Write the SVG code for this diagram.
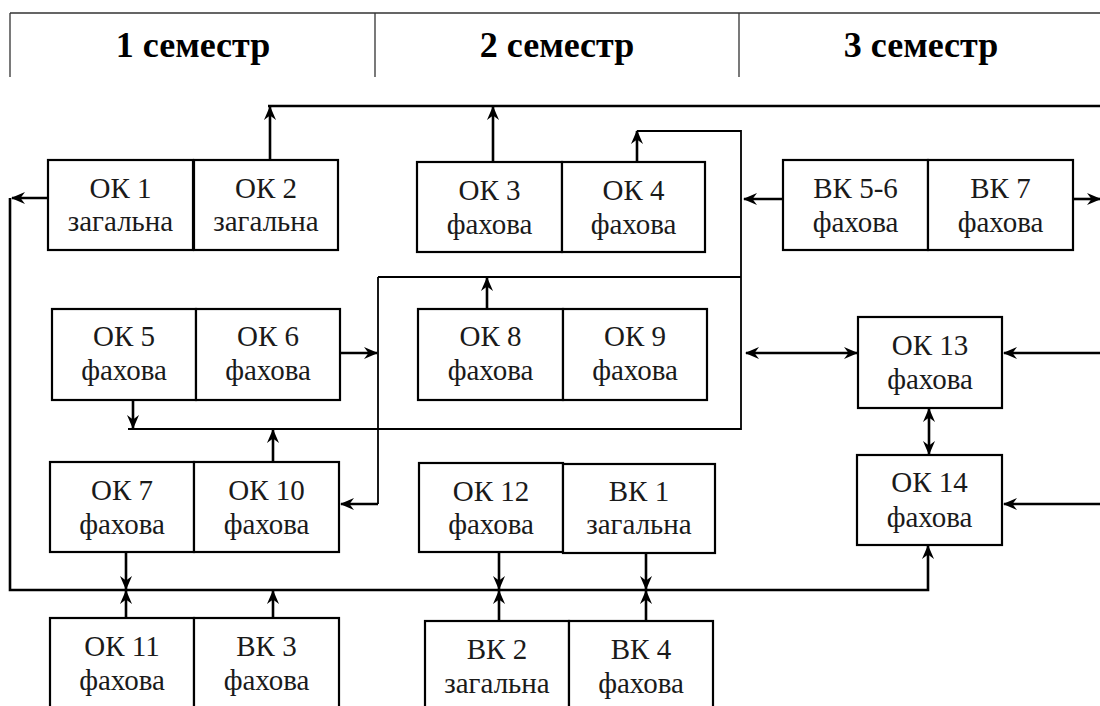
<svg xmlns="http://www.w3.org/2000/svg" width="1100" height="706" viewBox="0 0 1100 706">
<defs>
<marker id="ah" viewBox="0 0 14 12" refX="13" refY="6" markerWidth="14" markerHeight="12" markerUnits="userSpaceOnUse" orient="auto-start-reverse">
<path d="M0,0 L14,6 L0,12 L4.5,6 z" fill="#000"/>
</marker>
<style>
.hdr{stroke:#333;stroke-width:1.3;fill:none}
.ht{font-family:"Liberation Serif","Times New Roman","DejaVu Serif",serif;font-weight:bold;font-size:36px;text-anchor:middle;fill:#000}
.box rect{fill:#fff;stroke:#000;stroke-width:2.2}
.box text{font-family:"Liberation Serif","Times New Roman","DejaVu Serif",serif;font-size:29px;text-anchor:middle;fill:#1a1a1a}
.c{stroke:#000;stroke-width:2.6;fill:none}
.t{stroke:#000;stroke-width:1.8;fill:none}
.a{marker-end:url(#ah)}
.d{marker-start:url(#ah);marker-end:url(#ah)}
</style>
</defs>
<rect width="1100" height="706" fill="#fff"/>
<g id="header">
<path class="hdr" d="M10,13 H1100 M10,13 V77 M375,13 V77 M739,13 V77"/>
<text class="ht" x="193" y="57">1 семестр</text>
<text class="ht" x="557" y="57">2 семестр</text>
<text class="ht" x="921" y="57">3 семестр</text>
</g>
<g id="connectors">
<path class="c" d="M268,106 H1100"/>
<path class="c a" d="M48,198 H12"/>
<path class="c a" d="M10,198 V590 H928 V546"/>
<path class="c a" d="M270,160 V107"/>
<path class="c a" d="M493,162 V107"/>
<path class="c a" d="M637,162 V131"/>
<path class="t" d="M637,131 H741 V429 H128"/>
<path class="t" d="M378,277 H741"/>
<path class="c a" d="M487,309 V278"/>
<path class="c a" d="M340,353 H377"/>
<path class="t" d="M378,277 V504"/>
<path class="c a" d="M378,504 H341"/>
<path class="c a" d="M133,400 V428"/>
<path class="c a" d="M273,462 V430"/>
<path class="c a" d="M783,199 H744"/>
<path class="c a" d="M1073,199 H1100"/>
<path class="c d" d="M746,353 H857"/>
<path class="c a" d="M1100,353 H1004"/>
<path class="c d" d="M929,409 V454"/>
<path class="c a" d="M1100,504 H1004"/>
<path class="c a" d="M126,552 V589"/>
<path class="c a" d="M126,618 V591"/>
<path class="c a" d="M273,618 V591"/>
<path class="c a" d="M499,552 V589"/>
<path class="c a" d="M646,553 V589"/>
<path class="c a" d="M499,621 V591"/>
<path class="c a" d="M646,621 V591"/>
</g>
<g id="ok1" class="box"><rect x="48" y="160" width="145" height="90"/><text x="120.5" y="198">ОК 1</text><text x="120.5" y="231">загальна</text></g>
<g id="ok2" class="box"><rect x="194" y="160" width="144" height="90"/><text x="266" y="198">ОК 2</text><text x="266" y="231">загальна</text></g>
<g id="ok3" class="box"><rect x="417" y="162" width="145" height="90"/><text x="489.5" y="200">ОК 3</text><text x="489.5" y="234">фахова</text></g>
<g id="ok4" class="box"><rect x="562" y="162" width="143" height="90"/><text x="633.5" y="200">ОК 4</text><text x="633.5" y="234">фахова</text></g>
<g id="vk56" class="box"><rect x="783" y="160" width="145" height="90"/><text x="855.5" y="198">ВК 5-6</text><text x="855.5" y="232">фахова</text></g>
<g id="vk7" class="box"><rect x="928" y="160" width="145" height="90"/><text x="1000.5" y="198">ВК 7</text><text x="1000.5" y="232">фахова</text></g>
<g id="ok5" class="box"><rect x="52" y="309" width="144" height="91"/><text x="124" y="346">ОК 5</text><text x="124" y="380">фахова</text></g>
<g id="ok6" class="box"><rect x="196" y="309" width="144" height="91"/><text x="268" y="346">ОК 6</text><text x="268" y="380">фахова</text></g>
<g id="ok8" class="box"><rect x="418" y="309" width="145" height="91"/><text x="490.5" y="346">ОК 8</text><text x="490.5" y="380">фахова</text></g>
<g id="ok9" class="box"><rect x="563" y="309" width="144" height="91"/><text x="635" y="346">ОК 9</text><text x="635" y="380">фахова</text></g>
<g id="ok13" class="box"><rect x="858" y="317" width="144" height="91"/><text x="930" y="355">ОК 13</text><text x="930" y="389">фахова</text></g>
<g id="ok7" class="box"><rect x="50" y="462" width="144" height="90"/><text x="122" y="500">ОК 7</text><text x="122" y="534">фахова</text></g>
<g id="ok10" class="box"><rect x="194" y="462" width="145" height="90"/><text x="266.5" y="500">ОК 10</text><text x="266.5" y="534">фахова</text></g>
<g id="ok12" class="box"><rect x="419" y="463" width="144" height="89"/><text x="491" y="501">ОК 12</text><text x="491" y="534">фахова</text></g>
<g id="vk1" class="box"><rect x="563" y="464" width="152" height="89"/><text x="639" y="501">ВК 1</text><text x="639" y="534">загальна</text></g>
<g id="ok14" class="box"><rect x="857" y="455" width="145" height="90"/><text x="929.5" y="492">ОК 14</text><text x="929.5" y="527">фахова</text></g>
<g id="ok11" class="box"><rect x="50" y="618" width="144" height="100"/><text x="122" y="656">ОК 11</text><text x="122" y="690">фахова</text></g>
<g id="vk3" class="box"><rect x="194" y="618" width="145" height="100"/><text x="266.5" y="656">ВК 3</text><text x="266.5" y="690">фахова</text></g>
<g id="vk2" class="box"><rect x="425" y="621" width="144" height="100"/><text x="497" y="659">ВК 2</text><text x="497" y="693">загальна</text></g>
<g id="vk4" class="box"><rect x="569" y="621" width="144" height="100"/><text x="641" y="659">ВК 4</text><text x="641" y="693">фахова</text></g>
</svg>
